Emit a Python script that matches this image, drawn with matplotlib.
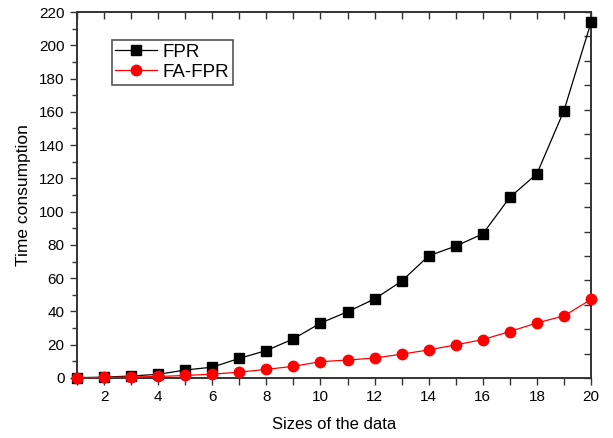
import numpy as np
import matplotlib
matplotlib.use('Agg')
import matplotlib.pyplot as plt
from matplotlib.ticker import MultipleLocator, FixedLocator

plt.rcParams['font.family'] = ['Liberation Sans', 'DejaVu Sans']

# data
sizes = list(range(1, 21))
fpr = [0.2, 0.5, 1.2, 2.2, 4.8, 6.5, 11.8, 16.5, 23.5, 33.0,
       39.8, 47.5, 58.2, 73.4, 79.3, 86.6, 108.6, 122.7, 160.7, 213.7]
fa_fpr = [0.1, 0.3, 0.6, 0.9, 1.5, 2.3, 3.5, 5.2, 7.0, 9.8,
          10.8, 12.0, 14.3, 16.9, 19.9, 23.1, 27.9, 33.1, 37.3, 47.2]

fig = plt.figure(figsize=(6.13, 4.38), dpi=100)
ax = fig.add_axes([0.1256, 0.137, 0.8385, 0.8356])

ax.plot(sizes, fpr, color='black', lw=0.9, marker='s', ms=6.5,
        label='FPR', clip_on=False, zorder=3)
ax.plot(sizes, fa_fpr, color='red', lw=0.9, marker='o', ms=7.5,
        label='FA-FPR', clip_on=False, zorder=3)

ax.set_xlim(1, 20)
ax.set_ylim(0, 220)

spine_col = '#333333'
for s in ax.spines.values():
    s.set_color(spine_col)
    s.set_linewidth(1.4)

ax.xaxis.set_major_locator(MultipleLocator(2))
ax.xaxis.set_minor_locator(MultipleLocator(1))
ax.yaxis.set_major_locator(MultipleLocator(20))
ax.yaxis.set_minor_locator(MultipleLocator(10))
ax.tick_params(which='major', direction='out', length=5, width=1,
               color=spine_col, labelsize=11, pad=4)
ax.tick_params(which='minor', direction='out', length=3.5, width=1,
               color=spine_col)
ax.tick_params(axis='x', which='minor', length=5)

# mirrored axes: ticks point inside, no labels
top = ax.secondary_xaxis('top')
top.xaxis.set_major_locator(MultipleLocator(1))
top.tick_params(direction='in', length=5, width=1, color=spine_col,
                labeltop=False)
top.spines['top'].set_visible(False)
right = ax.secondary_yaxis('right')
right.yaxis.set_major_locator(FixedLocator(np.linspace(0, 220, 16)))
right.tick_params(direction='in', length=5, width=1, color=spine_col,
                  labelright=False)
right.spines['right'].set_visible(False)

ax.set_xlabel('Sizes of the data', fontsize=12, labelpad=9)
ax.set_ylabel('Time consumption', fontsize=12.5, labelpad=6)

leg = ax.legend(loc='upper left', bbox_to_anchor=(0.0675, 0.923),
                borderaxespad=0, fancybox=False, edgecolor='#555555',
                fontsize=13.5, handlelength=2.2, handletextpad=0.3,
                borderpad=0.2, labelspacing=0.15, framealpha=1)
leg.get_frame().set_linewidth(1.2)

fig.savefig('out.png', dpi=100)
